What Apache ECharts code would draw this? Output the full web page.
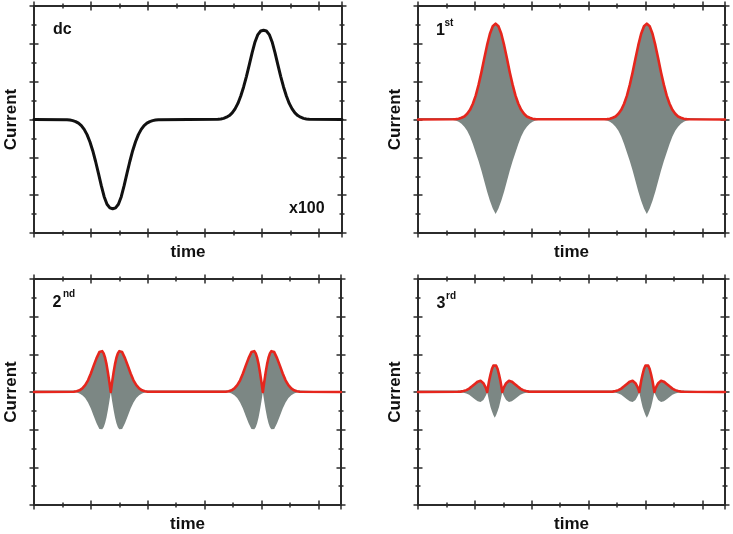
<!DOCTYPE html>
<html><head><meta charset="utf-8">
<script src="https://cdn.jsdelivr.net/npm/echarts@6/dist/echarts.min.js"></script>
<style>html,body{margin:0;padding:0;background:#fff}#c{width:733px;height:534px}</style>
</head><body><div id="c"></div>
<script>
// ---- data (time in arbitrary units, current in arbitrary units) ----
const dcTime = [0,
 1.16,1.26,1.36,1.46,1.56,1.66,1.76,1.86,1.96,2.06,2.16,2.26,2.36,2.46,2.56,2.66,2.76,2.86,2.96,3.06,3.16,3.26,3.36,3.46,3.56,3.66,3.76,3.86,3.96,4.06,4.16,4.26,4.36,
 6.45,6.55,6.65,6.75,6.85,6.95,7.05,7.15,7.25,7.35,7.45,7.55,7.65,7.75,7.85,7.95,8.05,8.15,8.25,8.35,8.45,8.55,8.65,8.75,8.85,8.95,9.05,9.15,9.25,9.35,9.45,9.55,9.65,
 10.8];
const dcCurrent = [0,
 -0.01,-0.03,-0.06,-0.11,-0.19,-0.32,-0.52,-0.80,-1.18,-1.65,-2.22,-2.85,-3.50,-4.08,-4.48,-4.67,-4.72,-4.67,-4.48,-4.08,-3.50,-2.85,-2.22,-1.65,-1.18,-0.80,-0.52,-0.32,-0.19,-0.11,-0.06,-0.03,-0.01,
 0.01,0.03,0.06,0.12,0.21,0.35,0.56,0.85,1.24,1.72,2.28,2.90,3.54,4.10,4.49,4.68,4.72,4.68,4.49,4.10,3.54,2.90,2.28,1.72,1.24,0.85,0.56,0.35,0.21,0.12,0.06,0.03,0.01,
 0];

const firstTime = [0,
 1.23,1.33,1.43,1.53,1.63,1.73,1.83,1.93,2.03,2.13,2.23,2.33,2.43,2.53,2.63,2.73,2.83,2.93,3.03,3.13,3.23,3.33,3.43,3.53,3.63,3.73,3.83,3.93,4.03,4.13,4.23,
 6.55,6.65,6.75,6.85,6.95,7.05,7.15,7.25,7.35,7.45,7.55,7.65,7.75,7.85,7.95,8.05,8.15,8.25,8.35,8.45,8.55,8.65,8.75,8.85,8.95,9.05,9.15,9.25,9.35,9.45,9.55,
 10.8];
const firstEnvelope = [0,
 0.01,0.02,0.04,0.09,0.16,0.30,0.51,0.83,1.26,1.83,2.49,3.22,3.93,4.53,4.93,5.07,4.93,4.53,3.93,3.22,2.49,1.83,1.26,0.83,0.51,0.30,0.16,0.09,0.04,0.02,0.01,
 0.01,0.02,0.04,0.09,0.16,0.30,0.51,0.83,1.26,1.83,2.49,3.22,3.93,4.53,4.93,5.07,4.93,4.53,3.93,3.22,2.49,1.83,1.26,0.83,0.51,0.30,0.16,0.09,0.04,0.02,0.01,
 0];
const firstLower = [0,
 -0.02,-0.05,-0.12,-0.22,-0.38,-0.60,-0.90,-1.30,-1.75,-2.20,-2.70,-3.25,-3.80,-4.30,-4.70,-5.00,-4.70,-4.30,-3.80,-3.25,-2.70,-2.20,-1.75,-1.30,-0.90,-0.60,-0.38,-0.22,-0.12,-0.05,-0.02,
 -0.02,-0.05,-0.12,-0.22,-0.38,-0.60,-0.90,-1.30,-1.75,-2.20,-2.70,-3.25,-3.80,-4.30,-4.70,-5.00,-4.70,-4.30,-3.80,-3.25,-2.70,-2.20,-1.75,-1.30,-0.90,-0.60,-0.38,-0.22,-0.12,-0.05,-0.02,
 0];

const secondTime = [0,
 1.4,1.5,1.6,1.7,1.8,1.9,2.0,2.1,2.2,2.3,2.35,2.4,2.45,2.5,2.55,2.6,2.65,2.7,2.75,2.8,2.85,2.9,2.95,3.0,3.05,3.1,3.2,3.3,3.4,3.5,3.6,3.7,3.8,3.9,4.0,
 6.75,6.85,6.95,7.05,7.15,7.25,7.35,7.45,7.55,7.65,7.7,7.75,7.8,7.85,7.9,7.95,8.0,8.05,8.1,8.15,8.2,8.25,8.3,8.35,8.4,8.45,8.55,8.65,8.75,8.85,8.95,9.05,9.15,9.25,9.35,
 10.8];
const secondEnvelope = [0,
 0.01,0.04,0.09,0.19,0.36,0.62,0.98,1.40,1.80,2.12,2.18,2.17,2.05,1.82,1.48,1.04,0.54,0,0.54,1.04,1.48,1.82,2.05,2.17,2.18,2.12,1.80,1.40,0.98,0.62,0.36,0.19,0.09,0.04,0.01,
 0.01,0.04,0.09,0.19,0.36,0.62,0.98,1.40,1.80,2.12,2.18,2.17,2.05,1.82,1.48,1.04,0.54,0,0.54,1.04,1.48,1.82,2.05,2.17,2.18,2.12,1.80,1.40,0.98,0.62,0.36,0.19,0.09,0.04,0.01,
 0];
const secondLower = [0,
 -0.01,-0.03,-0.08,-0.17,-0.32,-0.56,-0.88,-1.27,-1.66,-1.96,-2.04,-1.98,-1.87,-1.66,-1.35,-0.95,-0.50,0,-0.50,-0.95,-1.35,-1.66,-1.87,-1.98,-2.04,-1.96,-1.66,-1.27,-0.88,-0.56,-0.32,-0.17,-0.08,-0.03,-0.01,
 -0.01,-0.03,-0.08,-0.17,-0.32,-0.56,-0.88,-1.27,-1.66,-1.96,-2.04,-1.98,-1.87,-1.66,-1.35,-0.95,-0.50,0,-0.50,-0.95,-1.35,-1.66,-1.87,-1.98,-2.04,-1.96,-1.66,-1.27,-0.88,-0.56,-0.32,-0.17,-0.08,-0.03,-0.01,
 0];

const thirdTime = [0,
 1.4,1.5,1.6,1.7,1.8,1.9,2.0,2.1,2.15,2.2,2.25,2.3,2.35,2.4,2.435,2.45,2.5,2.55,2.6,2.65,2.7,2.75,2.8,2.85,2.9,2.95,2.965,3.0,3.05,3.1,3.15,3.2,3.25,3.3,3.4,3.5,3.6,3.7,3.8,3.9,4.0,
 6.75,6.85,6.95,7.05,7.15,7.25,7.35,7.45,7.5,7.55,7.6,7.65,7.7,7.75,7.785,7.8,7.85,7.9,7.95,8.0,8.05,8.1,8.15,8.2,8.25,8.3,8.315,8.35,8.4,8.45,8.5,8.55,8.6,8.65,8.75,8.85,8.95,9.05,9.15,9.25,9.35,
 10.8];
const thirdEnvelope = [0,
 0.01,0.02,0.05,0.10,0.18,0.30,0.43,0.55,0.59,0.60,0.56,0.47,0.33,0.17,0,0.15,0.58,0.93,1.22,1.40,1.47,1.40,1.22,0.93,0.58,0.15,0,0.17,0.33,0.47,0.56,0.60,0.59,0.55,0.43,0.30,0.18,0.10,0.05,0.02,0.01,
 0.01,0.02,0.05,0.10,0.18,0.30,0.43,0.55,0.59,0.60,0.56,0.47,0.33,0.17,0,0.15,0.58,0.93,1.22,1.40,1.47,1.40,1.22,0.93,0.58,0.15,0,0.17,0.33,0.47,0.56,0.60,0.59,0.55,0.43,0.30,0.18,0.10,0.05,0.02,0.01,
 0];
const thirdLower = [0,
 -0.01,-0.02,-0.04,-0.08,-0.15,-0.26,-0.38,-0.49,-0.52,-0.53,-0.50,-0.42,-0.29,-0.15,0,-0.12,-0.48,-0.80,-1.02,-1.22,-1.37,-1.22,-1.02,-0.80,-0.48,-0.12,0,-0.15,-0.29,-0.42,-0.50,-0.53,-0.52,-0.49,-0.38,-0.26,-0.15,-0.08,-0.04,-0.02,-0.01,
 -0.01,-0.02,-0.04,-0.08,-0.15,-0.26,-0.38,-0.49,-0.52,-0.53,-0.50,-0.42,-0.29,-0.15,0,-0.12,-0.48,-0.80,-1.02,-1.22,-1.37,-1.22,-1.02,-0.80,-0.48,-0.12,0,-0.15,-0.29,-0.42,-0.50,-0.53,-0.52,-0.49,-0.38,-0.26,-0.15,-0.08,-0.04,-0.02,-0.01,
 0];

const xTitle = 'time';
const yTitle = 'Current';
const xRange = [0, 10.8];
const yRange = [-6, 6];

// ---- chart ----
const FONT = '"Liberation Sans", Arial, sans-serif';
const AXIS = '#2b2b2b';
const GREY = '#7c8784';
const RED = '#e5261d';

const grids = [
  {left: 34, top: 6, width: 308, height: 227},
  {left: 418, top: 6, width: 307, height: 227},
  {left: 34, top: 279, width: 307, height: 226},
  {left: 418, top: 279, width: 307, height: 226}
];

const xAxes = [], yAxes = [], series = [];
const mainX = [], mainY = [];

grids.forEach((g, gi) => {
  const combos = [['bottom', true], ['bottom', false], ['top', true], ['top', false]];
  combos.forEach(([pos, inside], k) => {
    if (k === 0) mainX.push(xAxes.length);
    xAxes.push({
      type: 'value', gridIndex: gi, position: pos, min: xRange[0], max: xRange[1], interval: 2,
      name: k === 0 ? xTitle : '', nameLocation: 'middle', nameGap: 11,
      nameTextStyle: {fontFamily: FONT, fontWeight: 'bold', fontSize: 17, color: '#111'},
      axisLine: {show: inside, onZero: false, lineStyle: {color: AXIS, width: 2}},
      axisTick: {show: true, inside: inside, length: 4.5, lineStyle: {color: AXIS, width: 1.5}},
      minorTick: {show: true, splitNumber: 2, length: 2.5, lineStyle: {color: AXIS, width: 1.5}},
      axisLabel: {show: false}, splitLine: {show: false}, minorSplitLine: {show: false}
    });
  });
  const ycombos = [['left', true], ['left', false], ['right', true], ['right', false]];
  ycombos.forEach(([pos, inside], k) => {
    if (k === 0) mainY.push(yAxes.length);
    yAxes.push({
      type: 'value', gridIndex: gi, position: pos, min: yRange[0], max: yRange[1], interval: 2,
      name: k === 0 ? yTitle : '', nameLocation: 'middle', nameGap: 14, nameRotate: 90,
      nameTextStyle: {fontFamily: FONT, fontWeight: 'bold', fontSize: 17, color: '#111'},
      axisLine: {show: inside, onZero: false, lineStyle: {color: AXIS, width: 2}},
      axisTick: {show: true, inside: inside, length: 4.5, lineStyle: {color: AXIS, width: 1.5}},
      minorTick: {show: true, splitNumber: 2, length: 2.5, lineStyle: {color: AXIS, width: 1.5}},
      axisLabel: {show: false}, splitLine: {show: false}, minorSplitLine: {show: false}
    });
  });
});

function pairs(t, v) { return t.map((x, i) => [x, v[i]]); }
function area(gi, t, v, origin) {
  return {type: 'line', xAxisIndex: mainX[gi], yAxisIndex: mainY[gi], data: pairs(t, v),
    showSymbol: false, symbol: 'none', silent: true, z: 2,
    lineStyle: {width: 0, opacity: 0}, areaStyle: {color: GREY, opacity: 1, origin: origin}};
}
function curve(gi, t, v, color, w) {
  return {type: 'line', xAxisIndex: mainX[gi], yAxisIndex: mainY[gi], data: pairs(t, v),
    showSymbol: false, symbol: 'none', silent: true, z: 3,
    lineStyle: {color: color, width: w, join: 'round', cap: 'round'}};
}

series.push(curve(0, dcTime, dcCurrent, '#111', 3));
series.push(area(1, firstTime, firstEnvelope, 'auto'), area(1, firstTime, firstLower, 0.08), curve(1, firstTime, firstEnvelope, RED, 2.6));
series.push(area(2, secondTime, secondEnvelope, 'auto'), area(2, secondTime, secondLower, 0.08), curve(2, secondTime, secondEnvelope, RED, 2.6));
series.push(area(3, thirdTime, thirdEnvelope, 'auto'), area(3, thirdTime, thirdLower, 0.08), curve(3, thirdTime, thirdEnvelope, RED, 2.6));

function txt(left, top, text, size) {
  return {type: 'text', left: left, top: top, z: 10,
    style: {text: text, font: 'bold ' + size + 'px ' + FONT, fill: '#111'}};
}

const chart = echarts.init(document.getElementById('c'), null, {renderer: 'canvas'});
chart.setOption({
  animation: false,
  backgroundColor: '#fff',
  grid: grids.map(g => Object.assign({containLabel: false}, g)),
  xAxis: xAxes,
  yAxis: yAxes,
  series: series,
  graphic: [
    txt(53, 22, 'dc', 16),
    txt(289, 201, 'x100', 16),
    txt(436, 23, '1', 16), txt(444.5, 18, 'st', 10),
    txt(52.5, 295, '2', 16), txt(63, 289, 'nd', 10),
    txt(436.5, 296, '3', 16), txt(446, 291, 'rd', 10)
  ]
});
</script></body></html>
